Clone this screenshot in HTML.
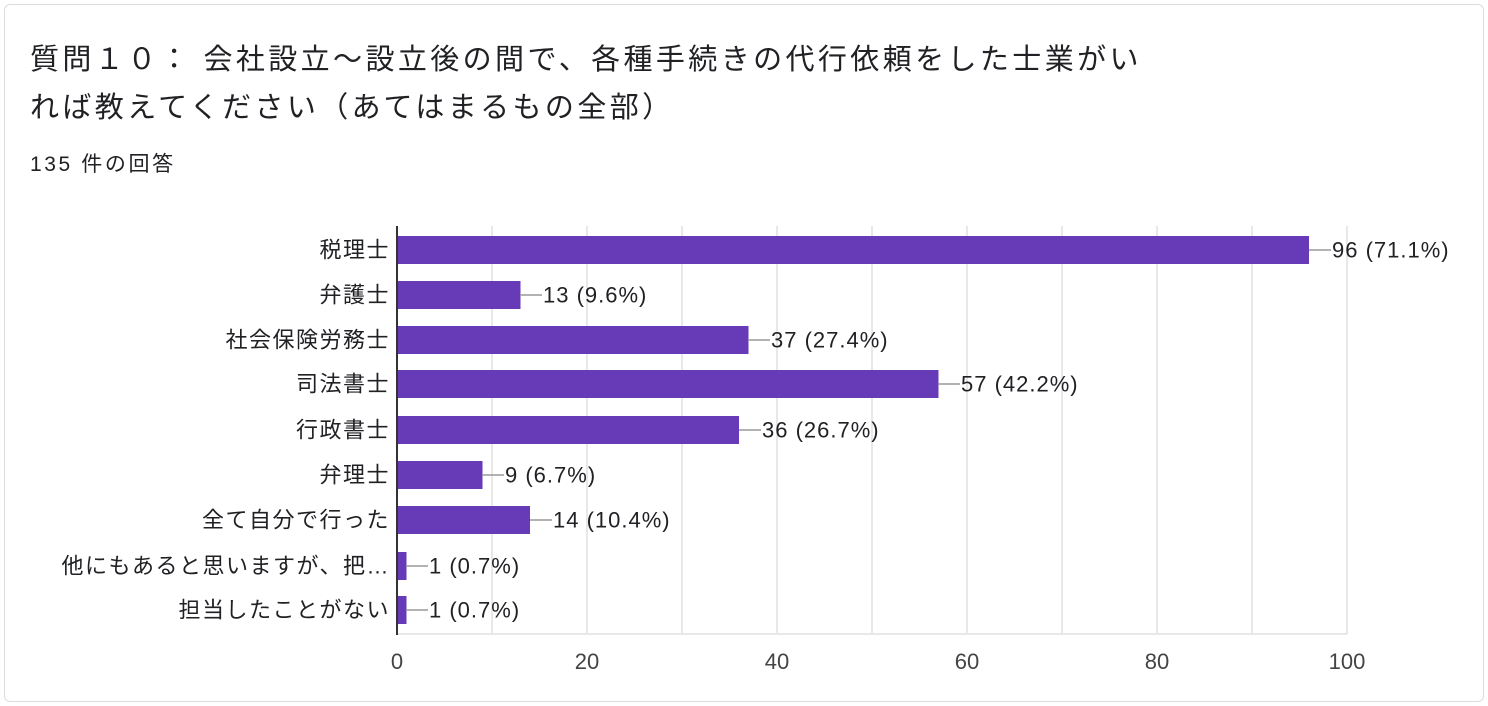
<!DOCTYPE html>
<html><head><meta charset="utf-8"><style>
body{margin:0;background:#fff;font-family:"Liberation Sans","Noto Sans CJK JP",sans-serif;}
.card{position:absolute;left:4px;top:4px;width:1478px;height:696px;border:1px solid #dadce0;border-radius:6px;}
.t{position:absolute;left:30px;font-size:29px;letter-spacing:3.4px;color:#202124;white-space:nowrap;}
</style></head><body>
<div class="card"></div>
<div class="t" style="top:36px">質問１０：&nbsp;会社設立〜設立後の間で、各種手続きの代行依頼をした士業がい</div>
<div class="t" style="top:84px">れば教えてください（あてはまるもの全部）</div>
<div class="t" style="top:148px;font-size:21px;letter-spacing:2.6px">135 件の回答</div>
<svg style="position:absolute;left:0;top:0" width="1488" height="706" font-family="Liberation Sans, Noto Sans CJK JP, sans-serif" font-size="22" fill="#202124">
<g stroke="#e8e8e8" stroke-width="2">
<line x1="492" y1="226" x2="492" y2="634"/><line x1="587" y1="226" x2="587" y2="634"/><line x1="682" y1="226" x2="682" y2="634"/><line x1="777" y1="226" x2="777" y2="634"/><line x1="872" y1="226" x2="872" y2="634"/><line x1="967" y1="226" x2="967" y2="634"/><line x1="1062" y1="226" x2="1062" y2="634"/><line x1="1157" y1="226" x2="1157" y2="634"/><line x1="1252" y1="226" x2="1252" y2="634"/><line x1="1347" y1="226" x2="1347" y2="634"/>
<line x1="397" y1="634" x2="1347" y2="634"/>
</g>
<g fill="#673ab7">
<rect x="397" y="236" width="912" height="28"/>
<rect x="397" y="281" width="123.5" height="28"/>
<rect x="397" y="326" width="351.5" height="28"/>
<rect x="397" y="370" width="541.5" height="28"/>
<rect x="397" y="416" width="342" height="28"/>
<rect x="397" y="461" width="85.5" height="28"/>
<rect x="397" y="506" width="133" height="28"/>
<rect x="397" y="552" width="9.5" height="28"/>
<rect x="397" y="596" width="9.5" height="28"/>
</g>
<line x1="397" y1="226" x2="397" y2="635" stroke="#333" stroke-width="2"/>
<g stroke="#999" stroke-width="1.5">
<line x1="1309" y1="250" x2="1331" y2="250"/><line x1="520" y1="295" x2="542" y2="295"/><line x1="748" y1="340" x2="770" y2="340"/><line x1="938" y1="384" x2="960" y2="384"/><line x1="739" y1="430" x2="761" y2="430"/><line x1="482" y1="475" x2="504" y2="475"/><line x1="530" y1="520" x2="552" y2="520"/><line x1="406" y1="566" x2="428" y2="566"/><line x1="406" y1="610" x2="428" y2="610"/>
</g>
<g dominant-baseline="central" letter-spacing="1">
<text x="1332" y="250">96 (71.1%)</text><text x="543" y="295">13 (9.6%)</text><text x="771" y="340">37 (27.4%)</text><text x="961" y="384">57 (42.2%)</text><text x="762" y="430">36 (26.7%)</text><text x="505" y="475">9 (6.7%)</text><text x="553" y="520">14 (10.4%)</text><text x="429" y="566">1 (0.7%)</text><text x="429" y="610">1 (0.7%)</text>
</g>
<g text-anchor="end" dominant-baseline="central" letter-spacing="1.5">
<text x="390" y="250">税理士</text><text x="390" y="295">弁護士</text><text x="390" y="340">社会保険労務士</text><text x="390" y="384">司法書士</text><text x="390" y="430">行政書士</text><text x="390" y="475">弁理士</text><text x="390" y="520">全て自分で行った</text><text x="390" y="566">他にもあると思いますが、把…</text><text x="390" y="610">担当したことがない</text>
</g>
<g text-anchor="middle" fill="#444">
<text x="397" y="669">0</text><text x="587" y="669">20</text><text x="777" y="669">40</text><text x="967" y="669">60</text><text x="1157" y="669">80</text><text x="1347" y="669">100</text>
</g>
</svg>
</body></html>
